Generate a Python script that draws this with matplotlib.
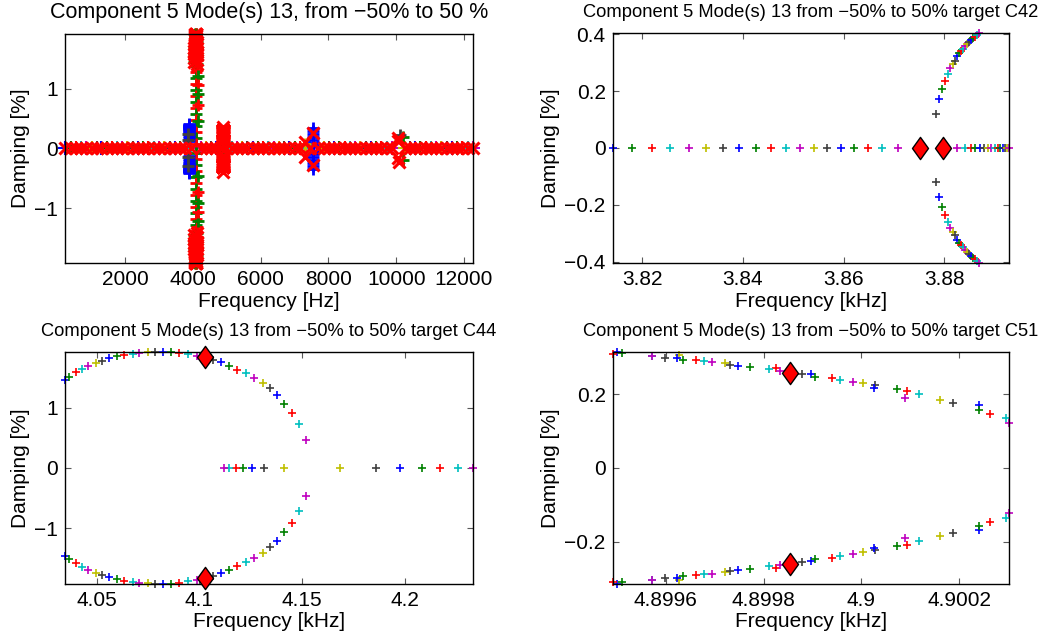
"""Root-locus style damping vs frequency plots for component 5, mode 13."""

import matplotlib

matplotlib.use("Agg")

import matplotlib.pyplot as plt
from matplotlib.path import Path
from matplotlib.ticker import FixedLocator, FuncFormatter

plt.rcParams["font.family"] = ["Liberation Sans", "DejaVu Sans"]

# MATLAB default line colour order
COLOR_ORDER = "bgrcmyk"
MATLAB_RGB = {
    "b": (0.0, 0.0, 1.0),
    "g": (0.0, 0.5, 0.0),
    "r": (1.0, 0.0, 0.0),
    "c": (0.0, 0.75, 0.75),
    "m": (0.75, 0.0, 0.75),
    "y": (0.75, 0.75, 0.0),
    "k": (0.25, 0.25, 0.25),
}

# ---- target C42 (kHz, damping %) ----
c42_left_freq = [3.8141, 3.8180, 3.8219, 3.8256, 3.8292, 3.8327, 3.8360, 3.8393,
                 3.8425, 3.8455, 3.8485, 3.8514, 3.8541, 3.8568, 3.8594, 3.8621,
                 3.8649, 3.8677, 3.8708]
c42_right_freq = [3.8825, 3.8842, 3.8853, 3.8861, 3.8871, 3.8879, 3.8887, 3.8894,
                  3.8901, 3.8907, 3.8912, 3.8917, 3.8921, 3.8925, 3.8929]
c42_cplx_freq = [3.8783, 3.8789, 3.8796, 3.8802, 3.8808, 3.8812, 3.8818, 3.8822,
                 3.8826, 3.8830, 3.8834, 3.8838, 3.8842, 3.8846, 3.8850, 3.8854,
                 3.8858, 3.8862, 3.8866, 3.8869]
c42_cplx_damp = [0.119, 0.172, 0.207, 0.237, 0.260, 0.281, 0.295, 0.307, 0.323,
                 0.333, 0.342, 0.350, 0.358, 0.365, 0.372, 0.379, 0.386, 0.392,
                 0.399, 0.405]
c42_target_freq = [3.8752, 3.8797]
c42_target_damp = [0.0, 0.0]

# ---- target C44 ----
c44_cplx_freq = [4.0346, 4.0365, 4.0399, 4.0427, 4.0459, 4.0497, 4.0524, 4.0562,
                 4.0598, 4.0635, 4.0676, 4.0708, 4.0749, 4.0784, 4.0825, 4.0862,
                 4.0903, 4.0947, 4.0988, 4.1028, 4.1069, 4.1106, 4.1145, 4.1186,
                 4.1226, 4.1267, 4.1308, 4.1342, 4.1378, 4.1415, 4.1452, 4.1488,
                 4.1519]
c44_cplx_damp = [1.456, 1.511, 1.583, 1.639, 1.694, 1.739, 1.778, 1.817, 1.850,
                 1.872, 1.889, 1.906, 1.917, 1.922, 1.922, 1.922, 1.911, 1.883,
                 1.858, 1.838, 1.789, 1.750, 1.694, 1.628, 1.567, 1.489, 1.411,
                 1.317, 1.211, 1.067, 0.911, 0.722, 0.461]
c44_real_lo_freq = [4.1415, 4.1313, 4.1256, 4.1212, 4.1178, 4.1147, 4.1121]
c44_real_hi_freq = [4.1686, 4.1860, 4.1979, 4.2084, 4.2174, 4.2260, 4.2333]
c44_target_freq = [4.1028, 4.1028]
c44_target_damp = [1.833, -1.833]

# ---- target C51 ----
c51_freq = [4.899499, 4.899511, 4.899491, 4.899571, 4.899571, 4.899627, 4.899598,
            4.899622, 4.899634, 4.899661, 4.899678, 4.899694, 4.899721, 4.899732,
            4.899748, 4.899772, 4.899825, 4.899811, 4.899834, 4.899854, 4.899878,
            4.899897, 4.899905, 4.899940, 4.899957, 4.899982, 4.900004, 4.900028,
            4.900025, 4.900072, 4.900093, 4.900117, 4.900089, 4.900161, 4.900188,
            4.900240, 4.900240, 4.900263, 4.900295, 4.900302]
c51_damp = [0.314, 0.310, 0.3095, 0.303, 0.303, 0.305, 0.299,
            0.299, 0.292, 0.291, 0.289, 0.287, 0.283, 0.279,
            0.276, 0.273, 0.271, 0.267, 0.262, 0.258, 0.255,
            0.253, 0.246, 0.243, 0.238, 0.233, 0.229, 0.224,
            0.217, 0.213, 0.208, 0.199, 0.190, 0.184, 0.176,
            0.169, 0.158, 0.147, 0.136, 0.122]
c51_target_freq = [4.899854, 4.899854]
c51_target_damp = [0.258, -0.260]

# ---- overview (Hz) ----
band_freq_hz = [226, 390, 545, 700, 860, 1010, 1160, 1300, 1460, 1610, 1770, 1920,
                2070, 2230, 2390, 2540, 2690, 2850, 3000, 3160, 3310, 3470, 3620,
                3760, 3950, 4230, 4380, 4520, 4680, 4830, 4990, 5140, 5300, 5450,
                5600, 5760, 5910, 6070, 6220, 6380, 6530, 6690, 6840, 7000, 7150,
                7450, 7700, 7860, 8010, 8170, 8320, 8480, 8630, 8790, 8940, 9100,
                9250, 9410, 9560, 9720, 9870, 10250, 10400, 10560, 10710, 10870,
                11020, 11180, 11330, 11490, 11640, 11800, 11950, 12110, 12265]
stripe_freq_hz = [4080] * 28
stripe_damp = [1.38, 1.28, 1.18, 1.08, 0.98, 0.88, 0.78, 0.68, 0.58, 0.48, 0.38,
               0.28, 0.18, 0.08, -0.08, -0.18, -0.28, -0.38, -0.48, -0.58, -0.68,
               -0.78, -0.88, -0.98, -1.08, -1.18, -1.28, -1.38]
red_x_freq_hz = [4890, 4890, 4900, 4900, 7300, 7300, 7546, 7546, 10040, 10060,
                 10050, 10080]
red_x_damp = [0.36, -0.39, 0.20, -0.30, 0.11, -0.14, 0.26, -0.28, 0.18, 0.12,
              -0.16, -0.22]
blue_plus_freq_hz = [7546] * 14
blue_plus_damp = [0.34, 0.29, 0.24, 0.19, 0.14, 0.09, 0.04, -0.04, -0.09, -0.14,
                  -0.19, -0.24, -0.29, -0.35]
yellow_plus_freq_hz = [7310, 7310]
yellow_plus_damp = [0.08, -0.05]
green_plus_freq_hz = [10190, 10190, 4900, 4900]
green_plus_damp = [0.20, -0.20, 0.14, -0.10]
gray_plus_freq_hz = [10100, 3860, 3860, 3860, 3860]
gray_plus_damp = [0.22, 0.25, 0.15, -0.15, -0.30]

TITLE_MAIN = "Component 5 Mode(s) 13, from \u221250% to 50 %"
TITLE_SUB = "Component 5 Mode(s) 13 from \u221250% to 50% target {}"

DIAMOND = Path([(0, 1), (0.72, 0), (0, -1), (-0.72, 0), (0, 1)],
               [Path.MOVETO, Path.LINETO, Path.LINETO, Path.LINETO, Path.CLOSEPOLY])


def cycle_colors(n, start, step=1):
    i0 = COLOR_ORDER.index(start)
    return [MATLAB_RGB[COLOR_ORDER[(i0 + step * k) % 7]] for k in range(n)]


def alt_gr(n):
    return [MATLAB_RGB["g"] if k % 2 == 0 else MATLAB_RGB["r"] for k in range(n)]


def plus(ax, x, y, colors, ms=6.2, mew=1.2):
    for xi, yi, c in zip(x, y, colors):
        ax.plot(xi, yi, "+", color=c, ms=ms, mew=mew, clip_on=False)


def targets(ax, x, y):
    ax.plot(x, y, linestyle="none", marker=DIAMOND, ms=16, mfc="r", mec="k",
            mew=1.0, clip_on=False, zorder=5)


def fmt(v, pos):
    if abs(v) < 1e-12:
        v = 0
    return f"{v:g}".replace("-", "\u2212")


def style(ax, xticks, yticks, xlabel, title, title_size):
    ax.xaxis.set_major_locator(FixedLocator(xticks))
    ax.yaxis.set_major_locator(FixedLocator(yticks))
    ax.xaxis.set_major_formatter(FuncFormatter(fmt))
    ax.yaxis.set_major_formatter(FuncFormatter(fmt))
    ax.tick_params(direction="in", top=True, right=True, length=4, width=0.8,
                   color="0.35", labelsize=15, pad=5)
    for sp in ax.spines.values():
        sp.set_linewidth(1.0)
    ax.set_xlabel(xlabel, fontsize=15, labelpad=2)
    ax.set_ylabel("Damping [%]", fontsize=15, labelpad=3)
    ax.set_title(title, fontsize=title_size, pad=11.5)


fig = plt.figure(figsize=(10.43, 6.38), dpi=100)
ax1 = fig.add_axes([0.0623, 0.5878, 0.3912, 0.3589])
ax2 = fig.add_axes([0.5874, 0.5878, 0.3800, 0.3605])
ax3 = fig.add_axes([0.0623, 0.0851, 0.3912, 0.3632])
ax4 = fig.add_axes([0.5874, 0.0851, 0.3800, 0.3632])

# ---- overview ----
zeros_band = [0.0] * len(band_freq_hz)
plus(ax1, band_freq_hz, zeros_band, cycle_colors(len(band_freq_hz), "b"), ms=10, mew=1.5)
plus(ax1, stripe_freq_hz, stripe_damp, alt_gr(len(stripe_damp)), ms=8, mew=2)
c44_hz = [f * 1000 for f in c44_cplx_freq]
plus(ax1, c44_hz, c44_cplx_damp, alt_gr(len(c44_hz)), ms=8, mew=2)
plus(ax1, c44_hz, [-d for d in c44_cplx_damp], alt_gr(len(c44_hz)), ms=8, mew=2)
c42_hz = [f * 1000 for f in c42_cplx_freq]
plus(ax1, c42_hz, c42_cplx_damp, [MATLAB_RGB["b"]] * len(c42_hz), ms=8, mew=2)
plus(ax1, c42_hz, [-d for d in c42_cplx_damp], [MATLAB_RGB["b"]] * len(c42_hz), ms=8, mew=2)
plus(ax1, blue_plus_freq_hz, blue_plus_damp, [MATLAB_RGB["b"]] * len(blue_plus_damp), ms=8, mew=2)
plus(ax1, yellow_plus_freq_hz, yellow_plus_damp, [MATLAB_RGB["y"]] * 2, ms=8, mew=2)
plus(ax1, green_plus_freq_hz, green_plus_damp, [MATLAB_RGB["g"]] * 4, ms=8, mew=2)
plus(ax1, gray_plus_freq_hz, gray_plus_damp, [MATLAB_RGB["k"]] * 5, ms=8, mew=2)

xkw = dict(linestyle="none", marker="x", color="r", ms=8.5, mew=2.2, clip_on=False)
ax1.plot(band_freq_hz, zeros_band, **xkw)
big = [(f, d) for f, d in zip(c44_hz, c44_cplx_damp) if d > 1.4]
ax1.plot([b[0] for b in big], [b[1] for b in big], **xkw)
ax1.plot([b[0] for b in big], [-b[1] for b in big], **xkw)
c51_hz = [f * 1000 for f in c51_freq]
ax1.plot(c51_hz, c51_damp, **xkw)
ax1.plot(c51_hz, [-d for d in c51_damp], **xkw)
ax1.plot(red_x_freq_hz, red_x_damp, **xkw)

ax1.set_xlim(min(band_freq_hz), max(band_freq_hz))
ax1.set_ylim(-max(c44_cplx_damp), max(c44_cplx_damp))
style(ax1, [2000, 4000, 6000, 8000, 10000, 12000], [-1, 0, 1],
      "Frequency [Hz]", TITLE_MAIN, 15.5)

# ---- C42 ----
plus(ax2, c42_left_freq, [0.0] * len(c42_left_freq), cycle_colors(len(c42_left_freq), "b"))
plus(ax2, c42_right_freq, [0.0] * len(c42_right_freq),
     cycle_colors(len(c42_right_freq), "m", -1))
cc = cycle_colors(len(c42_cplx_freq), "k")
plus(ax2, c42_cplx_freq, c42_cplx_damp, cc)
plus(ax2, c42_cplx_freq, [-d for d in c42_cplx_damp], cc)
targets(ax2, c42_target_freq, c42_target_damp)
ax2.set_xlim(min(c42_left_freq), max(c42_right_freq))
ax2.set_ylim(-max(c42_cplx_damp), max(c42_cplx_damp))
style(ax2, [3.82, 3.84, 3.86, 3.88], [-0.4, -0.2, 0, 0.2, 0.4],
      "Frequency [kHz]", TITLE_SUB.format("C42"), 13.2)

# ---- C44 ----
cc = cycle_colors(len(c44_cplx_freq), "b")
plus(ax3, c44_cplx_freq, c44_cplx_damp, cc)
plus(ax3, c44_cplx_freq, [-d for d in c44_cplx_damp], cc)
plus(ax3, c44_real_lo_freq, [0.0] * 7, cycle_colors(7, "y"))
plus(ax3, c44_real_hi_freq, [0.0] * 7, cycle_colors(7, "y"))
targets(ax3, c44_target_freq, c44_target_damp)
ax3.set_xlim(min(c44_cplx_freq), max(c44_real_hi_freq))
ax3.set_ylim(-max(c44_cplx_damp), max(c44_cplx_damp))
style(ax3, [4.05, 4.1, 4.15, 4.2], [-1, 0, 1],
      "Frequency [kHz]", TITLE_SUB.format("C44"), 13.2)

# ---- C51 ----
cc = cycle_colors(len(c51_freq), "b")
plus(ax4, c51_freq, c51_damp, cc)
plus(ax4, c51_freq, [-d for d in c51_damp], cc)
targets(ax4, c51_target_freq, c51_target_damp)
ax4.set_xlim(min(c51_freq), max(c51_freq))
ax4.set_ylim(-max(c51_damp), max(c51_damp))
style(ax4, [4.8996, 4.8998, 4.9, 4.9002], [-0.2, 0, 0.2],
      "Frequency [kHz]", TITLE_SUB.format("C51"), 13.2)

fig.savefig("out.png", dpi=100)
plt.close(fig)
